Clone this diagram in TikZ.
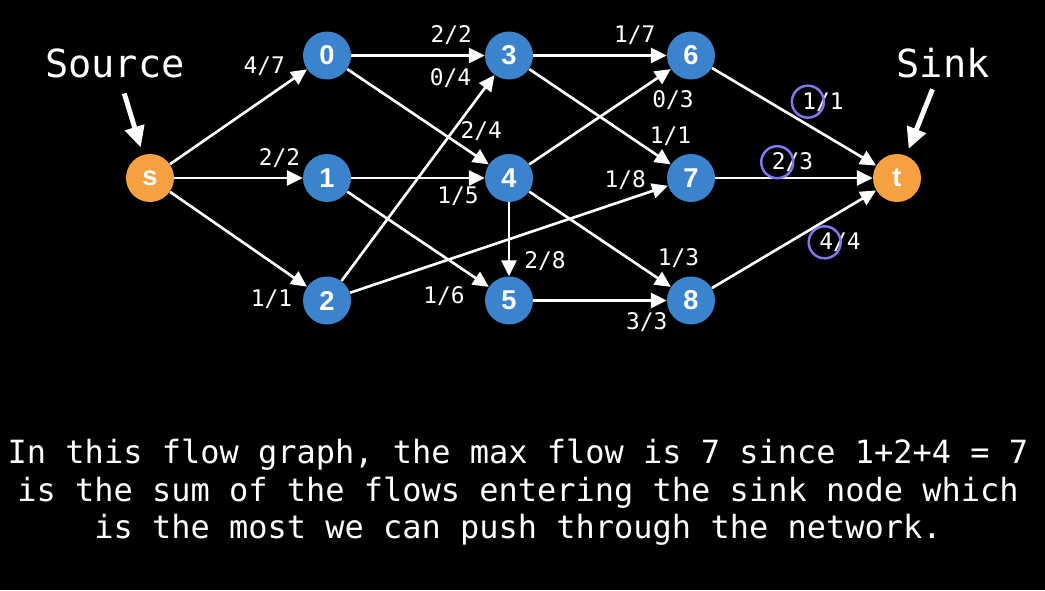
\documentclass[tikz,border=0pt]{standalone}
\usepackage{fontspec}
\setmainfont{Liberation Sans}
\setmonofont{DejaVu Sans Mono}
\usetikzlibrary{arrows.meta, positioning}

\definecolor{vblue}{RGB}{59,131,204}
\definecolor{vorange}{RGB}{245,161,66}
\definecolor{ringpurple}{RGB}{130,120,238}

\tikzset{
  vert/.style={circle, fill=vblue, minimum size=0.96cm, inner sep=0pt, text=white, font=\bfseries\fontsize{15.5}{15.5}\selectfont},
  term/.style={vert, fill=vorange},
  link/.style={-{Triangle[length=9pt, width=8.5pt]}, white, line width=1.5pt},
  lbl/.style={text=white, font=\ttfamily\fontsize{13}{13}\selectfont, inner sep=1pt, text height=9.5pt, text depth=1pt},
  ring/.style={draw=ringpurple, line width=1.4pt},
  pointer/.style={-{Triangle[length=12pt, width=11pt]}, white, line width=2.8pt},
  tag/.style={text=white, font=\ttfamily\fontsize{22}{22}\selectfont, inner sep=2pt}
}

\begin{document}
\begin{tikzpicture}[node distance=2.45cm and 3.64cm, on grid]
		\fill[black] (-3.0,3.56) rectangle (17.9,-8.24);
		
		% Source et puits
		\node[term] (s) {s};
		
		% Réseau
		\node[vert, right=3.54cm of s] (v1) {1};
		\node[vert, above=of v1] (v0) {0};
		\node[vert, below=of v1] (v2) {2};
		\node[vert, right=of v1] (v4) {4};
		\node[vert, above=of v4] (v3) {3};
		\node[vert, below=of v4] (v5) {5};
		\node[vert, right=of v4] (v7) {7};
		\node[vert, above=of v7] (v6) {6};
		\node[vert, below=of v7] (v8) {8};
		\node[term, right=4.12cm of v7] (t) {t};
		
		% Flèches
		\draw[link] (s) -- (v0) node[lbl, pos=0.88, above left=2pt] (fs0) {4/7};
		\draw[link] (s) -- (v1) node[lbl, pos=0.82, above=4.5pt] (fs1) {2/2};
		\draw[link] (s) -- (v2) node[lbl, pos=0.95, below left=4pt] (fs2) {1/1};
		\draw[link] (v0) -- (v3) node[lbl, pos=0.75, above=4.5pt] (f03) {2/2};
		\draw[link] (v0) -- (v4) node[lbl, pos=0.78, above right] (f04) {2/4};
		\draw[link] (v1) -- (v4) node[lbl, pos=0.8, below=3pt] (f14) {1/5};
		\draw[link] (v1) -- (v5) node[lbl, pos=0.9, below left=5.5pt] (f15) {1/6};
		\draw[link] (v2) -- (v3) node[lbl, pos=0.9, above left=4pt] (f23) {0/4};
		\draw[link] (v2) -- (v7) node[lbl, pos=0.94, above left] (f27) {1/8};
		\draw[link] (v3) -- (v6) node[lbl, pos=0.76, above=4.5pt] (f36) {1/7};
		\draw[link] (v3) -- (v7) node[lbl, pos=0.83, above right] (f37) {1/1};
		\draw[link] (v4) -- (v6) node[lbl, pos=0.83, below right=2pt] (f46) {0/3};
		\draw[link] (v4) -- (v5) node[lbl, pos=0.8, right=7pt] (f45) {2/8};
		\draw[link] (v4) -- (v8) node[lbl, pos=0.86, above right=3pt] (f48) {1/3};
		\draw[link] (v5) -- (v8) node[lbl, pos=0.85, below=5pt] (f58) {3/3};
		\draw[link] (v6) -- (t) node[lbl, pos=0.51, above right=3pt] (f6t) {1/1};
		\draw[link] (v7) -- (t) node[lbl, pos=0.49, above=2pt] (f7t) {2/3};
		\draw[link] (v8) -- (t) node[lbl, pos=0.62, below right=2pt] (f8t) {4/4};
		
		% Flux entrant dans le puits
		\draw[ring] ([xshift=0.17cm]f6t.west) circle (0.32cm);
		\draw[ring] ([xshift=0.17cm]f7t.west) circle (0.32cm);
		\draw[ring] ([xshift=0.17cm]f8t.west) circle (0.32cm);
		
		% Étiquettes
		\node[tag] (source) at (-0.7,2.3) {Source};
		\node[tag] (sink) at (15.86,2.3) {Sink};
		\draw[pointer, shorten <=0.25cm, shorten >=0.15cm] (source) -- (s);
		\draw[pointer, shorten <=0.16cm, shorten >=0.14cm] (sink) -- (t);
		
		\node[text=white, font=\ttfamily\fontsize{18.2}{21.3}\selectfont, align=center] (note) at (7.36,-6.29) {In this flow graph, the max flow is 7 since 1+2+4 = 7\\is the sum of the flows entering the sink node which\\is the most we can push through the network.};
		
	\end{tikzpicture}
\end{document}
